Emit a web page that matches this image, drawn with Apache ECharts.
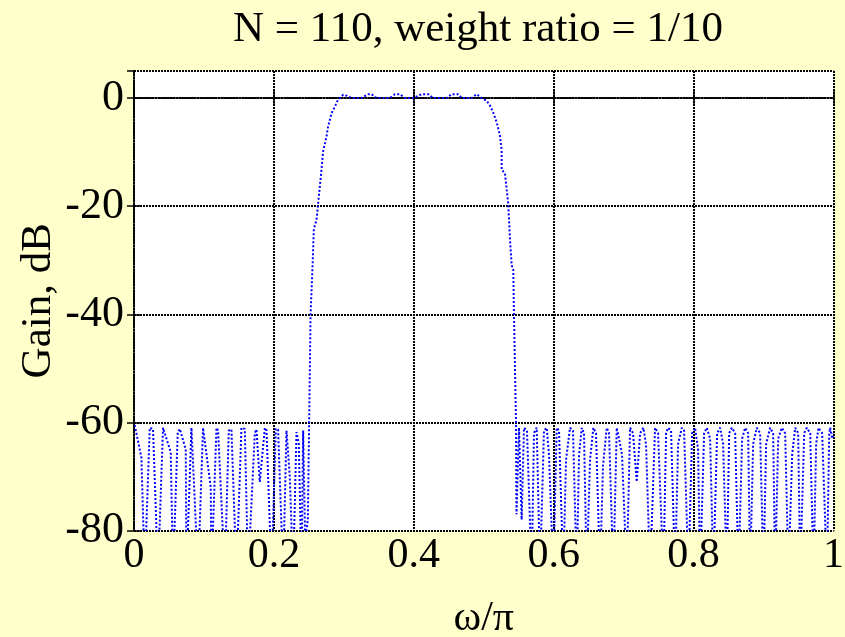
<!DOCTYPE html>
<html>
<head>
<meta charset="utf-8">
<script src="https://cdn.jsdelivr.net/npm/echarts@6/dist/echarts.min.js"></script>
<style>
html,body{margin:0;padding:0;background:#FFFFCC;}
#chart{width:845px;height:637px;}
</style>
</head>
<body>
<div id="chart"></div>
<script>
// ---- data ----
var titleText = 'N = 110, weight ratio = 1/10';
var xName = 'ω/π';
var yName = 'Gain, dB';
var xTicks = [0, 0.2, 0.4, 0.6, 0.8, 1];
var yTicks = [-80, -60, -40, -20, 0];

// lower stopband (ω/π, dB)
var stop1Omega = [0.001,0.0106,0.0153,0.0225,0.0272,0.0343,0.0415,0.0439,0.0525,0.0558,0.0625,0.0654,0.074,0.075,0.0821,0.0844,0.0916,0.0987,0.1012,0.1097,0.1107,0.1179,0.1202,0.1298,0.1355,0.1393,0.1465,0.1536,0.1584,0.1631,0.1727,0.1751,0.1798,0.1871,0.1894,0.1966,0.2027,0.206,0.2132,0.218,0.2227,0.2275,0.2323,0.2356,0.2395,0.2418,0.2456,0.2466,0.2485];
var stop1Gain  = [-60.5,-66.5,-88,-61,-61.2,-88,-61,-61,-65.5,-88,-62,-61.2,-65,-88,-61,-61,-88,-61,-61.2,-72,-88,-61,-61.5,-88,-61.5,-61.3,-88,-61,-61.2,-88,-62,-61.3,-71,-61,-61.5,-88,-61.2,-61.3,-88,-61.5,-70,-88,-61.8,-64,-88,-61.5,-88,-80,-78];

// transition + passband + transition
var passOmega = [0.2504,0.2524,0.2552,0.2571,0.2609,0.2647,0.268,0.2704,0.2752,0.2775,0.2824,0.2871,0.2918,0.299,0.3047,0.311,0.3253,0.3348,0.3396,0.3468,0.3658,0.373,0.3801,0.3873,0.3991,0.4112,0.4206,0.4278,0.4469,0.4541,0.4635,0.4684,0.4827,0.4898,0.497,0.5041,0.5089,0.5136,0.5185,0.5232,0.5256,0.5256,0.5303,0.535,0.5375,0.5399,0.5422,0.5432,0.5461];
var passGain  = [-60,-40,-31.3,-24.2,-22.6,-17.6,-13.3,-9.8,-7.1,-5.3,-2.8,-1.6,-0.3,0.6,0.4,0,0,0.7,0.7,0,0,0.7,0.7,0,0,0.7,0.7,0,0,0.7,0.7,0,0,0.7,0,-0.5,-1.4,-2.7,-4.5,-7.0,-9.6,-13.3,-13.9,-19.5,-26.2,-30.9,-31.8,-40,-60];

// upper stopband (ω/π, dB)
var stop2Omega = [0.5468,0.5504,0.5542,0.5575,0.5618,0.5685,0.5718,0.5757,0.5804,0.5861,0.59,0.5933,0.5994,0.6043,0.6076,0.6137,0.6176,0.6233,0.6276,0.6329,0.6362,0.6401,0.6433,0.6472,0.6519,0.6567,0.6605,0.6662,0.6705,0.6758,0.6791,0.6853,0.6901,0.6934,0.6977,0.7044,0.7092,0.7134,0.7187,0.7235,0.7282,0.732,0.7378,0.7449,0.7492,0.7568,0.7607,0.7635,0.7678,0.7735,0.7778,0.7831,0.7864,0.7926,0.7979,0.8021,0.8064,0.8093,0.815,0.8189,0.8236,0.8283,0.8336,0.8379,0.8422,0.8475,0.8508,0.8547,0.8594,0.8641,0.8694,0.8737,0.878,0.8808,0.8851,0.8904,0.8951,0.8999,0.9037,0.9094,0.9137,0.9166,0.9209,0.9262,0.9309,0.9356,0.9409,0.9452,0.9495,0.9524,0.9581,0.9619,0.9667,0.9714,0.9752,0.9785,0.9838,0.9906,0.9939,0.9953,0.9981,1.0];
var stop2Gain  = [-77,-61,-78,-61,-61.5,-88,-62,-61,-88,-61.5,-61,-66,-88,-61,-61.5,-88,-67,-61,-61.5,-88,-66,-61,-62,-88,-67,-61,-62,-88,-68,-61,-62,-88,-61,-63,-66,-88,-61,-62,-71,-62,-61,-64,-88,-61,-62,-88,-62,-61,-61.5,-88,-64,-61,-61.5,-88,-62,-61,-65,-88,-62,-61,-63,-88,-62,-61,-64,-88,-62,-61,-62,-88,-63,-61,-62,-88,-64,-61,-62,-88,-64,-61,-62,-88,-63,-61,-62,-88,-66,-61,-62,-88,-62,-61,-62,-88,-64,-61,-62,-88,-62,-61,-63,-62];

var omega = stop1Omega.concat(passOmega, stop2Omega);
var gain = stop1Gain.concat(passGain, stop2Gain);
var seriesData = omega.map(function (w, i) { return [w, gain[i]]; });

var FONT = 'Liberation Serif';
var gridLine = { show: true, lineStyle: { color: '#000', width: 2, type: [2, 1] } };
var frameLine = { show: true, lineStyle: { color: '#000', width: 1.5, type: [2, 1.5] } };
var tickIn = { show: true, inside: true, length: 7, lineStyle: { color: '#000', width: 1.5 } };

var chart = echarts.init(document.getElementById('chart'), null, { renderer: 'canvas' });
chart.setOption({
  backgroundColor: '#FFFFCC',
  animation: false,
  title: {
    text: titleText, left: 473, top: 3, textAlign: 'center',
    textStyle: { fontFamily: FONT, fontSize: 43, fontWeight: 'normal', color: '#000' }
  },
  grid: { left: 134, right: 11.5, top: 71, bottom: 106.5, show: true, backgroundColor: '#fff', borderWidth: 0,
    outerBoundsMode: 'none', containLabel: false },
  xAxis: [{
    type: 'value', min: xTicks[0], max: xTicks[xTicks.length - 1], interval: 0.2, position: 'bottom',
    name: xName, nameLocation: 'middle', nameGap: 67, nameMoveOverlap: false,
    nameTextStyle: { fontFamily: FONT, fontSize: 42, color: '#000' },
    axisLine: frameLine, axisTick: tickIn, splitLine: gridLine,
    axisLabel: { fontFamily: FONT, fontSize: 42, color: '#000', margin: 4,
      formatter: function (v) { return (v === 0 || v === 1) ? String(v) : v.toFixed(1); } }
  }, {
    type: 'value', min: xTicks[0], max: xTicks[xTicks.length - 1], interval: 0.2, position: 'top',
    axisLine: frameLine, axisTick: tickIn, splitLine: { show: false }, axisLabel: { show: false }
  }],
  yAxis: [{
    type: 'value', min: yTicks[0], max: 5, interval: 20, position: 'left',
    name: yName, nameLocation: 'middle', nameGap: 74, nameRotate: 90, nameMoveOverlap: false,
    nameTextStyle: { fontFamily: FONT, fontSize: 43, color: '#000' },
    axisLine: frameLine, axisTick: tickIn, splitLine: gridLine,
    axisLabel: { fontFamily: FONT, fontSize: 44, color: '#000', margin: 10, showMaxLabel: false,
      formatter: function (v) { return yTicks.indexOf(v) >= 0 ? String(v) : ''; } }
  }, {
    type: 'value', min: yTicks[0], max: 5, interval: 20, position: 'right',
    axisLine: frameLine, axisTick: tickIn, splitLine: { show: false }, axisLabel: { show: false }
  }],
  series: [{
    type: 'line', data: seriesData, showSymbol: false, clip: true,
    xAxisIndex: 0, yAxisIndex: 0,
    lineStyle: { color: '#0000FF', width: 2, type: [2, 2] }
  }]
});
</script>
</body>
</html>
